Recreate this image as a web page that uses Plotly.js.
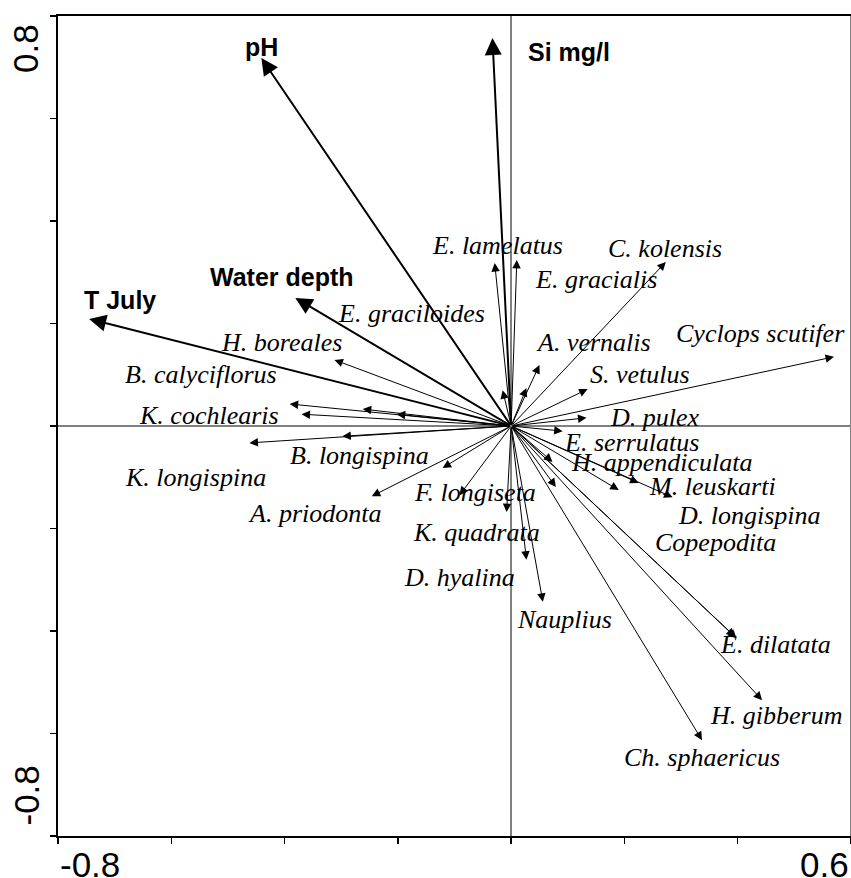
<!DOCTYPE html>
<html>
<head>
<meta charset="utf-8">
<script src="https://cdn.plot.ly/plotly-3.0.1.min.js"></script>
<style>html,body{margin:0;padding:0;background:#fff;}#chart{width:851px;height:878px;}</style>
</head>
<body>
<div id="chart"></div>
<script>
// Environmental variables (biplot scores)
const envNames = ['pH', 'Si mg/l', 'Water depth', 'T July'];
const envX = [-0.441, -0.033, -0.381, -0.745];
const envY = [0.718, 0.757, 0.250, 0.209];

// Species scores
const speciesNames = ['E. lamelatus', 'E. gracialis', 'C. kolensis', 'E. graciloides', 'H. boreales',
  'A. vernalis', 'Cyclops scutifer', 'B. calyciflorus', 'S. vetulus', 'K. cochlearis', 'D. pulex',
  'E. serrulatus', 'B. longispina', 'H. appendiculata', 'K. longispina', 'M. leuskarti', 'F. longiseta',
  'A. priodonta', 'D. longispina', 'K. quadrata', 'Copepodita', 'D. hyalina', 'Nauplius', 'E. dilatata',
  'H. gibberum', 'Ch. sphaericus'];
const speciesX = [-0.029, 0.010, 0.273, -0.015, -0.312, 0.050, 0.570, -0.391, 0.135, -0.370, 0.133,
  0.091, -0.298, 0.190, -0.462, 0.225, -0.121, -0.246, 0.285, -0.008, 0.395, 0.027, 0.056, 0.398,
  0.443, 0.337];
const speciesY = [0.318, 0.324, 0.320, 0.070, 0.129, 0.119, 0.135, 0.043, 0.072, 0.023, 0.016,
  -0.010, -0.020, -0.125, -0.033, -0.111, -0.082, -0.137, -0.139, -0.168, -0.411, -0.261, -0.343, -0.414,
  -0.535, -0.613];

// Unlabelled species vectors visible near the origin
const extraX = [0.027, -0.262, -0.202, 0.073, 0.079, -0.091];
const extraY = [0.074, 0.033, 0.023, -0.070, -0.119, -0.135];

// Axis ranges and end tick labels
const xRange = [-0.8, 0.6];
const yRange = [-0.8, 0.8];
const xTickVals = [-0.8, 0.6];
const xTickText = ['-0.8', '0.6'];
const yTickVals = [0.8, -0.8];
const yTickText = ['0.8', '-0.8'];

// Label placement (layout, data units)
const labelPos = {
  'pH': [-0.441, 0.740], 'Si mg/l': [0.103, 0.730], 'Water depth': [-0.405, 0.291], 'T July': [-0.691, 0.246],
  'E. lamelatus': [-0.024, 0.353], 'C. kolensis': [0.271, 0.347], 'E. gracialis': [0.149, 0.285],
  'E. graciloides': [-0.176, 0.219], 'H. boreales': [-0.405, 0.162], 'A. vernalis': [0.146, 0.162],
  'Cyclops scutifer': [0.441, 0.181], 'B. calyciflorus': [-0.547, 0.100], 'S. vetulus': [0.227, 0.100],
  'K. cochlearis': [-0.533, 0.021], 'D. pulex': [0.254, 0.016], 'E. serrulatus': [0.213, -0.033],
  'B. longispina': [-0.268, -0.057], 'H. appendiculata': [0.266, -0.072], 'K. longispina': [-0.557, -0.100],
  'M. leuskarti': [0.356, -0.119], 'F. longiseta': [-0.064, -0.129], 'A. priodonta': [-0.347, -0.170],
  'D. longispina': [0.421, -0.174], 'K. quadrata': [-0.061, -0.207], 'Copepodita': [0.361, -0.228],
  'D. hyalina': [-0.091, -0.295], 'Nauplius': [0.095, -0.377], 'E. dilatata': [0.466, -0.427],
  'H. gibberum': [0.467, -0.564], 'Ch. sphaericus': [0.337, -0.646]
};

const annotations = [];
function arrow(x, y, w, size) {
  annotations.push({x: x, y: y, ax: 0, ay: 0, xref: 'x', yref: 'y', axref: 'x', ayref: 'y',
    text: '', showarrow: true, arrowhead: 2, arrowwidth: w, arrowsize: size, arrowcolor: '#000', standoff: 0});
}
speciesX.forEach((x, i) => arrow(x, speciesY[i], 1, 1.7));
extraX.forEach((x, i) => arrow(x, extraY[i], 1, 1.7));
envX.forEach((x, i) => arrow(x, envY[i], 2, 1.7));

speciesNames.forEach(n => {
  const p = labelPos[n];
  annotations.push({x: p[0], y: p[1], xref: 'x', yref: 'y', text: '<i>' + n + '</i>', showarrow: false,
    xanchor: 'center', yanchor: 'middle', font: {family: 'Liberation Serif, Times New Roman, serif', size: 26, color: '#000'}});
});
envNames.forEach(n => {
  const p = labelPos[n];
  annotations.push({x: p[0], y: p[1], xref: 'x', yref: 'y', text: '<b>' + n + '</b>', showarrow: false,
    xanchor: 'center', yanchor: 'middle', font: {family: 'Liberation Sans, Arial, sans-serif', size: 25, color: '#000'}});
});

const tickFont = {family: 'Liberation Sans, Arial, sans-serif', size: 35, color: '#000'};
xTickVals.forEach((v, i) => {
  annotations.push({x: v, y: 0, xref: 'x', yref: 'paper', text: xTickText[i], showarrow: false,
    xanchor: i === 0 ? 'left' : 'right', yanchor: 'top', yshift: -7, font: tickFont});
});
yTickVals.forEach((v, i) => {
  annotations.push({x: 0, y: v, xref: 'paper', yref: 'y', text: yTickText[i], showarrow: false, textangle: -90,
    xanchor: 'right', yanchor: i === 0 ? 'top' : 'bottom', xshift: -11, yshift: i === 0 ? -6 : 8, font: tickFont});
});

const axisCommon = {
  showgrid: false, zeroline: true, zerolinecolor: '#808080', zerolinewidth: 1.5,
  showline: true, linecolor: '#000', linewidth: 2, ticks: 'outside', ticklen: 6, tickwidth: 1.5,
  tickcolor: '#000', tick0: 0, dtick: 0.2, showticklabels: false, fixedrange: true
};

const data = [{
  x: speciesX.concat(envX), y: speciesY.concat(envY), type: 'scatter', mode: 'markers',
  marker: {size: 1, opacity: 0}, hoverinfo: 'skip', showlegend: false
}];

const layout = {
  width: 851, height: 878,
  margin: {l: 58, r: 0, t: 16, b: 42},
  paper_bgcolor: '#fff', plot_bgcolor: '#fff',
  showlegend: false,
  xaxis: Object.assign({}, axisCommon, {range: xRange, mirror: true}),
  yaxis: Object.assign({}, axisCommon, {range: yRange, mirror: false}),
  shapes: [{type: 'line', xref: 'paper', yref: 'paper', x0: 1, x1: 1, y0: 0, y1: 1,
    line: {color: '#808080', width: 2}}],
  annotations: annotations
};

Plotly.newPlot('chart', data, layout, {displayModeBar: false, staticPlot: true});
</script>
</body>
</html>
